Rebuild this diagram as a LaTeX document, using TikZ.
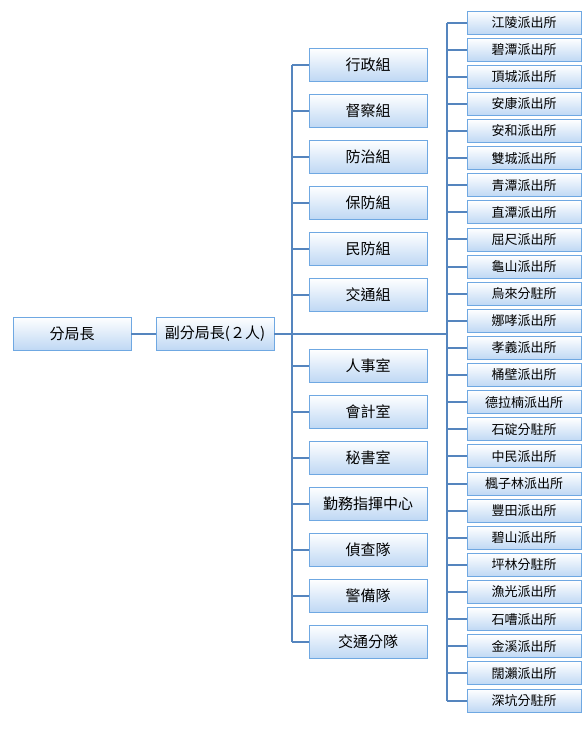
\documentclass[tikz,border=0pt]{standalone}
\usepackage{fontspec}
\newfontfamily\cjk{Noto Sans CJK TC}
\usetikzlibrary{shadings}
\definecolor{busblue}{HTML}{5585BE}
\definecolor{boxline}{HTML}{6FA8E2}
\definecolor{boxbot}{HTML}{BFD8F4}
\tikzset{
  bigbox/.style={draw=boxline, line width=0.9pt, top color=white, bottom color=boxbot,
    minimum width=118pt, minimum height=33pt, inner sep=0pt, font=\cjk\fontsize{15}{17}\selectfont},
  smallbox/.style={draw=boxline, line width=0.9pt, top color=white, bottom color=boxbot,
    minimum width=114pt, minimum height=23pt, inner sep=0pt, font=\cjk\fontsize{13}{15}\selectfont},
  bus/.style={draw=busblue, line width=2pt}
}
\begin{document}
\begin{tikzpicture}[x=1pt,y=-1pt]
\useasboundingbox (0,0) rectangle (587,745);
\fill[white] (0,0) rectangle (587,745);
% left boxes
\node[bigbox] (chief) at (72,333.5) {分局長};
\node[bigbox] (deputy) at (215,333.5) {副分局長(２人)};
% middle boxes
\foreach \n/\y/\t in {m1/64.5/行政組, m2/110.5/督察組, m3/156.5/防治組, m4/202.5/保防組, m5/248.5/民防組, m6/294.5/交通組,
  m7/365.5/人事室, m8/411.5/會計室, m9/457.5/秘書室, m10/503.5/勤務指揮中心, m11/549.5/偵查隊, m12/595.5/警備隊, m13/641.5/交通分隊}
  {\node[bigbox] (\n) at (368,\y) {\t};}
% right boxes
\foreach \t [count=\i from 0] in {江陵派出所,碧潭派出所,頂城派出所,安康派出所,安和派出所,雙城派出所,青潭派出所,直潭派出所,屈尺派出所,龜山派出所,烏來分駐所,娜哮派出所,孝義派出所,桶壁派出所,德拉楠派出所,石碇分駐所,中民派出所,楓子林派出所,豐田派出所,碧山派出所,坪林分駐所,漁光派出所,石嘈派出所,金溪派出所,闊瀨派出所,深坑分駐所}
  {\node[smallbox] (r\i) at (524,{22.5+27.12*\i}) {\t};}
% buses
\coordinate (mb) at (292,333.5);
\coordinate (rb) at (447,333.5);
\draw[bus] (chief.east) -- (deputy.west);
\draw[bus] (deputy.east) -- (rb);
\draw[bus] (mb |- m1.west) -- (mb |- m13.west);
\draw[bus] (rb |- r0.west) -- (rb |- r25.west);
\foreach \i in {1,...,13} {\draw[bus] (mb |- m\i.west) -- (m\i.west);}
\foreach \i in {0,...,25} {\draw[bus] (rb |- r\i.west) -- (r\i.west);}
\end{tikzpicture}
\end{document}
